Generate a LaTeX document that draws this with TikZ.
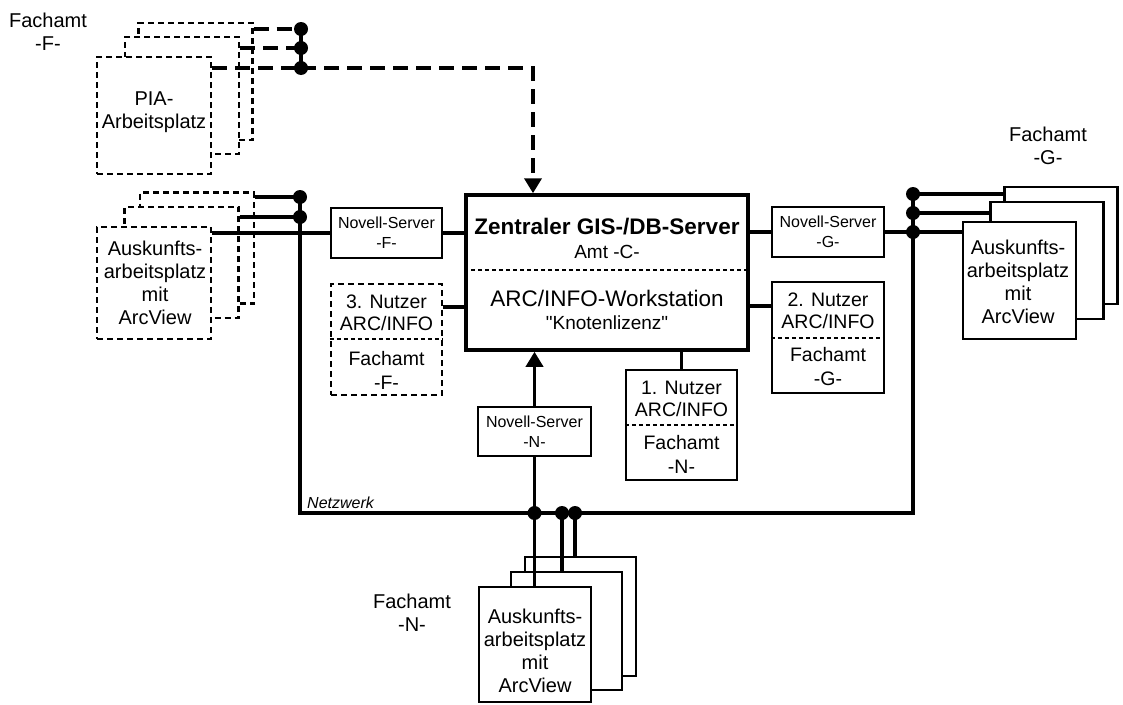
\documentclass[tikz,border=0pt]{standalone}
\usepackage{fontspec}
\setmainfont{Liberation Sans}
\usetikzlibrary{arrows.meta}
\begin{document}
\begin{tikzpicture}[x=1pt,y=-1pt,
  sbox/.style={draw,line width=2.2pt,fill=white,inner sep=0pt},
  dbox/.style={sbox,dash pattern=on 6pt off 4pt},
  mainbox/.style={draw,line width=3.5pt,fill=white,inner sep=0pt},
  conn/.style={line width=3.5pt},
  dconn/.style={line width=4pt,dash pattern=on 15pt off 8pt},
  dot/.style={circle,fill=black,inner sep=0pt,minimum size=14pt},
  divider/.style={line width=1.6pt,dash pattern=on 4pt off 3pt},
  txt/.style={align=center,inner sep=0pt,font=\fontsize{20}{23}\selectfont},
  smalltxt/.style={align=center,inner sep=0pt,font=\fontsize{16}{20}\selectfont},
  bigtxt/.style={align=center,inner sep=0pt,font=\fontsize{22.5}{26}\selectfont},
  midtxt/.style={align=center,inner sep=0pt,font=\fontsize{19}{22}\selectfont},
  arr/.style={-{Triangle[length=15pt,width=17pt]}}
]
\useasboundingbox (0,0) rectangle (1123,704);

% ---------- labels ----------
\node[txt] (lblF) at (48,32) {Fachamt\\-F-};
\node[txt] (lblG) at (1048,146) {Fachamt\\-G-};
\node[txt] (lblN) at (412,613) {Fachamt\\-N-};

% ---------- PIA stack ----------
\node[dbox,minimum width=114pt,minimum height=117pt] (piaB) at (195.5,81.5) {};
\node[dbox,minimum width=114pt,minimum height=117pt] (piaM) at (182,95.5) {};
\node[dbox,minimum width=114pt,minimum height=117pt] (piaF) at (154,115.5) {};
\node[txt] (piaT) at (154,112) {PIA-\\Arbeitsplatz};

% ---------- left Auskunft stack ----------
\node[dbox,minimum width=114pt,minimum height=111pt] (lB) at (197,248) {};
\node[dbox,minimum width=114pt,minimum height=111pt] (lM) at (181.5,262.5) {};
\node[dbox,minimum width=114pt,minimum height=112pt] (lF) at (154,283) {};
\node[txt] (lT) at (155,283) {Auskunfts-\\arbeitsplatz\\mit\\ArcView};

% ---------- right Auskunft stack ----------
\node[sbox,minimum width=113pt,minimum height=117pt] (rB) at (1061,245.5) {};
\node[sbox,minimum width=113pt,minimum height=117pt] (rM) at (1047,260.5) {};
\node[sbox,minimum width=113pt,minimum height=117pt] (rF) at (1019.5,280.5) {};
\node[txt] (rT) at (1018,281.5) {Auskunfts-\\arbeitsplatz\\mit\\ArcView};

% ---------- bottom Auskunft stack ----------
\node[sbox,minimum width=111pt,minimum height=119pt] (bB) at (580.5,616.5) {};
\node[sbox,minimum width=111pt,minimum height=118pt] (bM) at (566.5,631) {};
\node[sbox,minimum width=112pt,minimum height=115pt] (bF) at (535,644.5) {};
\node[txt] (bT) at (535,651) {Auskunfts-\\arbeitsplatz\\mit\\ArcView};

% ---------- central server ----------
\node[mainbox,minimum width=282pt,minimum height=155pt] (central) at (607,272.5) {};
\draw[divider] (central.west |- 0,270) -- (central.east |- 0,270);
\node[bigtxt,font=\fontsize{22.5}{26}\selectfont\bfseries] (cT1) at (607,227) {Zentraler GIS-/DB-Server};
\node[midtxt] (cT2) at (607,252) {Amt -C-};
\node[bigtxt] (cT3) at (607,298) {ARC/INFO-Workstation};
\node[midtxt] (cT4) at (607,323) {\textquotedbl Knotenlizenz\textquotedbl};

% ---------- Novell servers ----------
\node[sbox,minimum width=111pt,minimum height=50pt] (novF) at (386.5,233) {};
\node[smalltxt] (novFT) at (386.5,233) {Novell-Server\\-F-};
\node[sbox,minimum width=112pt,minimum height=50pt] (novG) at (828,232) {};
\node[smalltxt] (novGT) at (828,232) {Novell-Server\\-G-};
\node[sbox,minimum width=113pt,minimum height=49pt] (novN) at (534.5,431.5) {};
\node[smalltxt] (novNT) at (534.5,432) {Novell-Server\\-N-};

% ---------- Nutzer boxes ----------
\node[dbox,minimum width=111pt,minimum height=111pt] (nutzF) at (386.5,339.5) {};
\draw[divider] (nutzF.west |- 0,339) -- (nutzF.east |- 0,339);
\node[txt,font=\fontsize{19.5}{22}\selectfont] (nutzFa) at (386.5,312.5) {3. Nutzer\\ARC/INFO};
\node[txt,font=\fontsize{19.5}{24}\selectfont] (nutzFb) at (386.5,370) {Fachamt\\-F-};

\node[sbox,minimum width=112pt,minimum height=111pt] (nutzG) at (828,337.5) {};
\draw[divider] (nutzG.west |- 0,338) -- (nutzG.east |- 0,338);
\node[txt,font=\fontsize{19.5}{22}\selectfont] (nutzGa) at (828,311) {2. Nutzer\\ARC/INFO};
\node[txt,font=\fontsize{19.5}{24}\selectfont] (nutzGb) at (828,366.5) {Fachamt\\-G-};

\node[sbox,minimum width=111pt,minimum height=110pt] (nutzN) at (681.5,425) {};
\draw[divider] (nutzN.west |- 0,425) -- (nutzN.east |- 0,425);
\node[txt,font=\fontsize{19.5}{22}\selectfont] (nutzNa) at (681.5,399) {1. Nutzer\\ARC/INFO};
\node[txt,font=\fontsize{19.5}{24}\selectfont] (nutzNb) at (681.5,454) {Fachamt\\-N-};

% ---------- dots ----------
\node[dot] (d1) at (301,29) {};
\node[dot] (d2) at (301,48) {};
\node[dot] (d3) at (301,68) {};
\node[dot] (ld1) at (300,197) {};
\node[dot] (ld2) at (300,217) {};
\node[dot] (rd1) at (913,194) {};
\node[dot] (rd2) at (913,213) {};
\node[dot] (rd3) at (913,232) {};
\node[dot] (bd1) at (534.5,513) {};
\node[dot] (bd2) at (562,513) {};
\node[dot] (bd3) at (575,513) {};
\coordinate (netSW) at (300,513);
\coordinate (netSE) at (913,513);

% ---------- PIA connectors ----------
\draw[dconn] (piaB.east |- d1) -- (d1.center);
\draw[dconn] (piaM.east |- d2) -- (d2.center);
\draw[dconn] (piaF.east |- d3) -- (d3.center);
\draw[conn] (d1.center) -- (d3.center);
\draw[dconn,arr] (d3.center) -| (central.north -| 533,0);

% ---------- left connectors ----------
\draw[conn] (lB.east |- ld1) -- (ld1.center);
\draw[conn] (lM.east |- ld2) -- (ld2.center);
\draw[conn] (lF.east |- novF) -- (novF.west);
\draw[conn] (novF.east) -- (novF.east -| central.west);
\draw[conn] (nutzF.east |- 0,307) -- (central.west |- 0,307);

% ---------- network ----------
\draw[conn] (ld1.center) -- (netSW) -- (netSE) -- (rd1.center);
\node[anchor=west,inner sep=0pt,font=\fontsize{16}{18}\selectfont\itshape] (netz) at (307,503) {Netzwerk};

% ---------- right connectors ----------
\draw[conn] (central.east |- novG) -- (novG.west);
\draw[conn] (central.east |- 0,306) -- (nutzG.west |- 0,306);
\draw[conn] (novG.east) -- (rd3.center) -- (rF.west |- rd3);
\draw[conn] (rd1.center) -- (rB.west |- rd1);
\draw[conn] (rd2.center) -- (rM.west |- rd2);

% ---------- bottom connectors ----------
\draw[conn,arr] (novN.north) -- (novN.north |- central.south);
\draw[conn] (novN.south) -- (bd1.center);
\draw[conn] (nutzN.north) -- (nutzN.north |- central.south);
\draw[conn] (bd1.center) -- (bd1 |- bF.north);
\draw[conn] (bd2.center) -- (bd2 |- bM.north);
\draw[conn] (bd3.center) -- (bd3 |- bB.north);
\end{tikzpicture}
\end{document}
